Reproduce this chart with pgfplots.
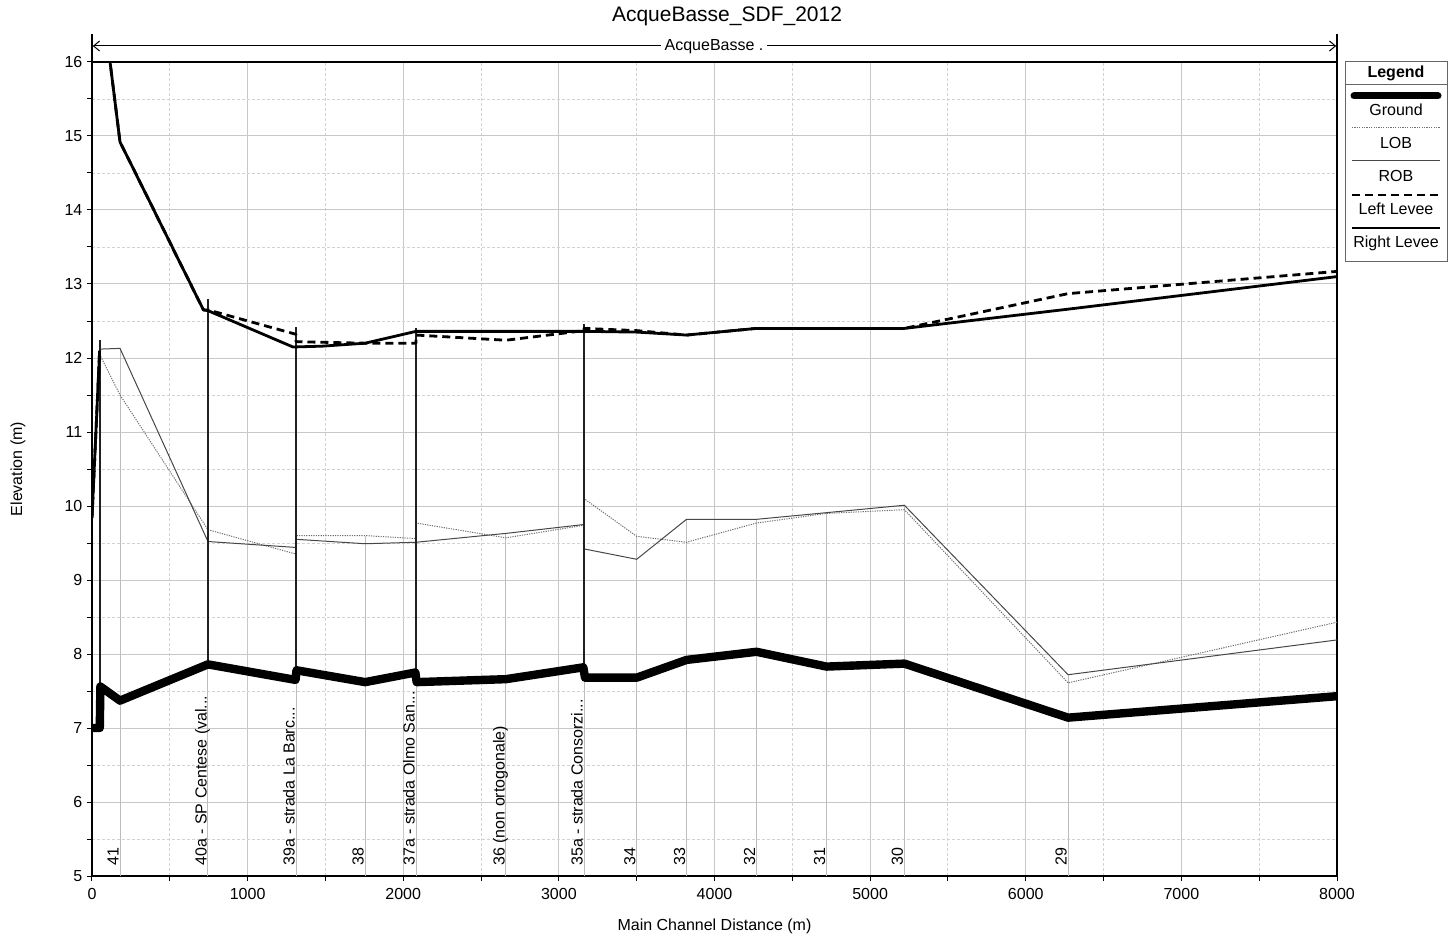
\documentclass[border=0pt]{standalone}
\usepackage{fontspec}
\setmainfont{Liberation Sans}
\usepackage{pgfplots}
\pgfplotsset{compat=1.18}
\usetikzlibrary{arrows.meta}

\definecolor{gridmaj}{HTML}{C8C8C8}
\definecolor{gridmin}{HTML}{D2D2D2}
\definecolor{lobc}{HTML}{6E6E6E}
\definecolor{robc}{HTML}{474747}
\definecolor{xsline}{HTML}{BDBDBD}
\definecolor{structc}{HTML}{202020}

\begin{document}
\begin{tikzpicture}[font=\fontsize{8}{9.6}\selectfont]
\path[use as bounding box] (-46pt,-31pt) rectangle (682pt,438pt);
\begin{axis}[
  at={(0,0)}, anchor=south west,
  scale only axis, width=622.5pt, height=407pt,
  xmin=0, xmax=8000, ymin=5, ymax=16,
  xtick={0,1000,...,8000}, minor xtick={500,1500,...,7500},
  ytick={5,...,16}, minor ytick={5.5,6.5,...,15.5},
  grid=both,
  major grid style={draw=gridmaj, line width=0.5pt},
  minor grid style={draw=gridmin, line width=0.45pt, dash pattern=on 1.5pt off 1pt},
  tick align=outside, tick pos=left,
  major tick length=2.5pt, minor tick length=2.5pt,
  tick style={black, line width=0.5pt},
  axis line style={line width=1pt},
  /pgf/number format/assume math mode=true,
  /pgf/number format/1000 sep={},
  yticklabel style={xshift=1.2pt},
  xlabel={Main Channel Distance (m)}, ylabel={Elevation (m)},
  xlabel style={at={(axis description cs:0.5,-0.0614)}, anchor=center},
  ylabel style={at={(axis description cs:-0.0594,0.5)}, anchor=center},
]
% cross-section station lines
\addplot[xsline, line width=0.5pt, forget plot] coordinates {(180,5) (180,12.13)};
\addplot[xsline, line width=0.5pt, forget plot] coordinates {(745,5) (745,7.86)};
\addplot[xsline, line width=0.5pt, forget plot] coordinates {(1311,5) (1311,7.7)};
\addplot[xsline, line width=0.5pt, forget plot] coordinates {(1755,5) (1755,9.60)};
\addplot[xsline, line width=0.5pt, forget plot] coordinates {(2082,5) (2082,7.7)};
\addplot[xsline, line width=0.5pt, forget plot] coordinates {(2660,5) (2660,9.64)};
\addplot[xsline, line width=0.5pt, forget plot] coordinates {(3162,5) (3162,7.7)};
\addplot[xsline, line width=0.5pt, forget plot] coordinates {(3500,5) (3500,9.59)};
\addplot[xsline, line width=0.5pt, forget plot] coordinates {(3820,5) (3820,9.82)};
\addplot[xsline, line width=0.5pt, forget plot] coordinates {(4270,5) (4270,9.82)};
\addplot[xsline, line width=0.5pt, forget plot] coordinates {(4720,5) (4720,9.91)};
\addplot[xsline, line width=0.5pt, forget plot] coordinates {(5220,5) (5220,10.01)};
\addplot[xsline, line width=0.5pt, forget plot] coordinates {(6272,5) (6272,7.72)};
% LOB
\addplot[lobc, line width=0.5pt, dash pattern=on 0.6pt off 0.6pt] coordinates {
(49,12.05) (180,11.50) (745,9.68) (1311,9.35) (1311,9.60) (1755,9.60) (2082,9.56) (2082,9.77)
(2660,9.57) (3162,9.74) (3162,10.10) (3500,9.59) (3820,9.51) (4270,9.77) (4720,9.90) (5220,9.95)
(6272,7.61) (8000,8.43)};
% ROB
\addplot[robc, line width=0.5pt] coordinates {
(49,12.12) (180,12.13) (745,9.52) (1311,9.44) (1311,9.55) (1755,9.49) (2082,9.51) (2660,9.63)
(3162,9.75) (3162,9.42) (3500,9.28) (3820,9.82) (4270,9.82) (4720,9.91) (5220,10.01)
(6272,7.72) (8000,8.19)};
% structures
\addplot[structc, line width=1.1pt, forget plot] coordinates {(49,7.0) (49,12.24)};
\addplot[structc, line width=1.1pt, forget plot] coordinates {(745,7.86) (745,12.80)};
\addplot[structc, line width=1.1pt, forget plot] coordinates {(1311,7.65) (1311,12.42)};
\addplot[structc, line width=1.1pt, forget plot] coordinates {(2082,7.62) (2082,12.40)};
\addplot[structc, line width=1.1pt, forget plot] coordinates {(3162,7.68) (3162,12.46)};
% left levee
\addplot[black, line width=1.4pt, dash pattern=on 4pt off 2.5pt, forget plot] coordinates {(0,9.84) (49,12.10)};
\addplot[black, line width=1.4pt, dash pattern=on 4pt off 2.5pt, line join=round] coordinates {
(100,16.27) (180,14.92) (716,12.65) (745,12.65) (1311,12.32) (1311,12.22) (1755,12.20) (2082,12.20)
(2082,12.31) (2660,12.24) (3162,12.37) (3162,12.40) (3500,12.37) (3820,12.31) (4270,12.40)
(5220,12.40) (6272,12.87) (8000,13.17)};
% right levee
\addplot[black, line width=1.4pt, forget plot] coordinates {(0,9.84) (49,12.10)};
\addplot[black, line width=1.4pt, line join=round] coordinates {
(100,16.27) (180,14.92) (716,12.65) (745,12.64) (1290,12.15) (1311,12.15) (1480,12.16) (1755,12.20)
(2082,12.36) (3162,12.36) (3500,12.35) (3820,12.31) (4270,12.40) (5220,12.40) (6272,12.66)
(8000,13.10)};
% ground
\addplot[black, line width=4.2pt, line join=round, line cap=round] coordinates {
(0,7.00) (50,7.00) (54,7.56) (180,7.37) (745,7.86) (1308,7.65) (1314,7.78) (1755,7.62)
(2078,7.75) (2086,7.62) (2660,7.66) (3157,7.82) (3168,7.68) (3500,7.68) (3820,7.92)
(4270,8.03) (4720,7.83) (5220,7.87) (6272,7.14) (8000,7.43)};
% station labels
\path (axis cs:171,5.135) node[rotate=90, anchor=base west, inner sep=0pt] {41};
\path (axis cs:736,5.135) node[rotate=90, anchor=base west, inner sep=0pt] {40a - SP Centese (val...};
\path (axis cs:1302,5.135) node[rotate=90, anchor=base west, inner sep=0pt] {39a - strada La Barc...};
\path (axis cs:1746,5.135) node[rotate=90, anchor=base west, inner sep=0pt] {38};
\path (axis cs:2073,5.135) node[rotate=90, anchor=base west, inner sep=0pt] {37a - strada Olmo San...};
\path (axis cs:2651,5.135) node[rotate=90, anchor=base west, inner sep=0pt] {36 (non ortogonale)};
\path (axis cs:3153,5.135) node[rotate=90, anchor=base west, inner sep=0pt] {35a - strada Consorzi...};
\path (axis cs:3491,5.135) node[rotate=90, anchor=base west, inner sep=0pt] {34};
\path (axis cs:3811,5.135) node[rotate=90, anchor=base west, inner sep=0pt] {33};
\path (axis cs:4261,5.135) node[rotate=90, anchor=base west, inner sep=0pt] {32};
\path (axis cs:4711,5.135) node[rotate=90, anchor=base west, inner sep=0pt] {31};
\path (axis cs:5211,5.135) node[rotate=90, anchor=base west, inner sep=0pt] {30};
\path (axis cs:6263,5.135) node[rotate=90, anchor=base west, inner sep=0pt] {29};
\end{axis}
% title
\node[font=\fontsize{10.5}{12.6}\selectfont, anchor=center] at (317.5pt,430pt) {AcqueBasse\_SDF\_2012};
% reach annotation
\draw[line width=0.7pt] (0,407pt) -- (0,421pt);
\draw[line width=0.7pt] (622.5pt,407pt) -- (622.5pt,421pt);
\draw[line width=0.5pt, {Straight Barb[length=3pt,width=5pt]}-{Straight Barb[length=3pt,width=5pt]}]
  (0.4pt,415pt) -- (622.1pt,415pt);
\node[fill=white, inner sep=2pt] at (311pt,414.5pt) {AcqueBasse .};
% legend
\draw[draw=gray!80!black, line width=0.5pt, fill=white] (626.5pt,307pt) rectangle (677.5pt,407pt);
\node[font=\bfseries\fontsize{8}{9.6}\selectfont] at (652pt,401.5pt) {Legend};
\draw[gray!80!black, line width=0.5pt] (626.5pt,395.5pt) -- (677.5pt,395.5pt);
\draw[line width=3.5pt, line cap=round] (631pt,390pt) -- (673pt,390pt);
\node at (652pt,383pt) {Ground};
\draw[lobc, line width=0.5pt, dash pattern=on 0.6pt off 0.6pt] (630pt,374pt) -- (674pt,374pt);
\node at (652pt,366.5pt) {LOB};
\draw[robc, line width=0.5pt] (630pt,357.5pt) -- (674pt,357.5pt);
\node at (652pt,350pt) {ROB};
\draw[line width=1.4pt, dash pattern=on 4pt off 2.5pt] (630pt,340.5pt) -- (674pt,340.5pt);
\node at (652pt,333.5pt) {Left Levee};
\draw[line width=1.4pt] (630pt,324pt) -- (674pt,324pt);
\node at (652pt,316.5pt) {Right Levee};
\end{tikzpicture}
\end{document}
